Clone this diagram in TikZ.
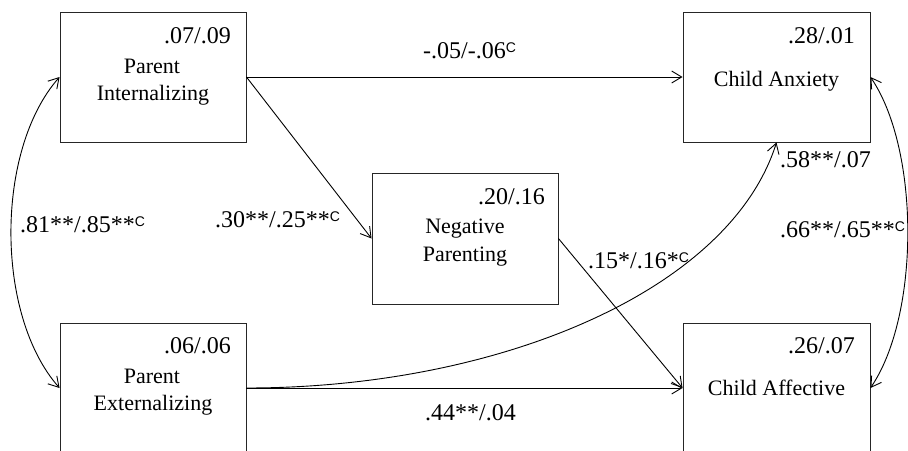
\documentclass[tikz,border=0pt]{standalone}
\usepackage{fontspec}
\setmainfont{Liberation Serif}
\newfontfamily\sansC{Liberation Sans}
\usetikzlibrary{arrows.meta}
\newcommand\supC{\raisebox{6pt}{\fontsize{14}{14}\selectfont\sansC C}}
\begin{document}
\begin{tikzpicture}[x=1pt,y=-1pt,
  box/.style={draw=black!85, line width=0.9pt, minimum width=186pt, minimum height=130pt, inner sep=0pt},
  lbl/.style={inner sep=0pt, font=\fontsize{22}{24}\selectfont},
  num/.style={inner sep=0pt, font=\fontsize{24}{26}\selectfont},
  arr/.style={line width=0.9pt, -{Straight Barb[length=10pt,width=12pt]}},
  biarr/.style={line width=0.9pt, {Straight Barb[length=10pt,width=12pt]}-{Straight Barb[length=10pt,width=12pt]}}]
\useasboundingbox (0,0) rectangle (908,450);
\clip (0,0) rectangle (908,450);
% boxes
\node[box] (pi) at (153,77) {};
\node[box, minimum width=187pt] (ca) at (776.5,77) {};
\node[box, minimum height=131pt] (np) at (465,238.5) {};
\node[box] (pe) at (153,388) {};
\node[box, minimum width=187pt] (caf) at (776.5,388) {};
% box texts
\node[num, anchor=base east] (pin) at (231,43) {.07/.09};
\node[lbl, anchor=base] (pit1) at (152,73) {Parent};
\node[lbl, anchor=base] (pit2) at (153,100) {Internalizing};
\node[num, anchor=base east] (can) at (855,43) {.28/.01};
\node[lbl, anchor=base] (cat) at (776.5,86) {Child Anxiety};
\node[num, anchor=base east] (npn) at (545,204) {.20/.16};
\node[lbl, anchor=base] (npt1) at (465,233) {Negative};
\node[lbl, anchor=base] (npt2) at (465,261) {Parenting};
\node[num, anchor=base east] (pen) at (231,353) {.06/.06};
\node[lbl, anchor=base] (pet1) at (152,383) {Parent};
\node[lbl, anchor=base] (pet2) at (153,410) {Externalizing};
\node[num, anchor=base east] (cafn) at (855,353) {.26/.07};
\node[lbl, anchor=base] (caft) at (776.5,395) {Child Affective};
% connectors
\draw[arr] (pi.east) -- (ca.west);
\draw[arr] (pi.east) -- (np.west);
\draw[arr] (np.east) -- (caf.west);
\draw[arr] (pe.east) -- (caf.west);
\draw[arr] (pe.east) .. controls (500,388) and (730,290) .. (ca.south);
\draw[biarr] (pi.west) .. controls (-5,150) and (-5,315) .. (pe.west);
\draw[biarr] (ca.east) .. controls (920,150) and (920,315) .. (caf.east);
% path labels
\node[num, anchor=base west] (l1) at (423,58) {-.05/-.06\supC};
\node[num, anchor=base west] (l2) at (20,232) {.81**/.85**\supC};
\node[num, anchor=base west] (l3) at (215,227) {.30**/.25**\supC};
\node[num, anchor=base west] (l4) at (588,268) {.15*/.16*\supC};
\node[num, anchor=base west] (l5) at (780,237) {.66**/.65**\supC};
\node[num, anchor=base west] (l6) at (780,167) {.58**/.07};
\node[num, anchor=base west] (l7) at (425,420) {.44**/.04};
\end{tikzpicture}
\end{document}
